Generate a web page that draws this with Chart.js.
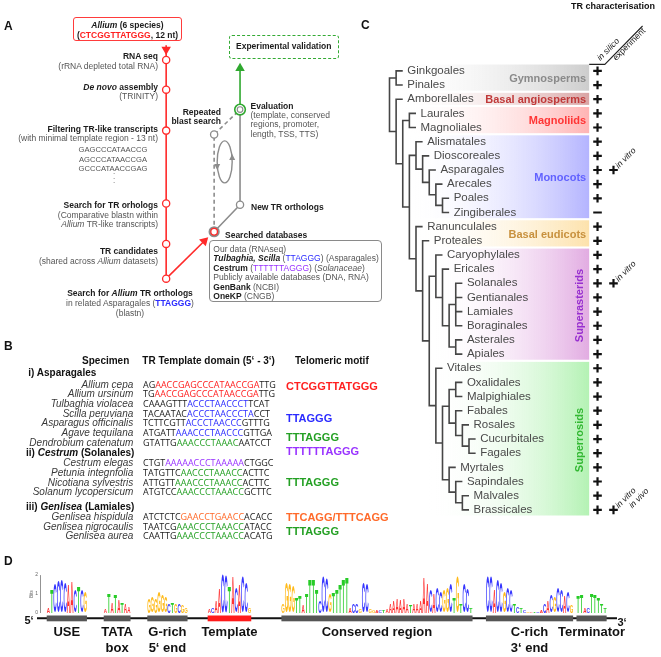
<!DOCTYPE html>
<html>
<head>
<meta charset="utf-8">
<title>Telomerase RNA search</title>
<script src="https://cdn.jsdelivr.net/npm/chart.js@4.4.1/dist/chart.umd.min.js"></script>
<style>
  body { margin: 0; background: #fff; }
  #fig { position: relative; width: 661px; height: 657px; overflow: hidden; font-family: "Liberation Sans", Arial, sans-serif; color: #555; }
  #fig canvas { position: absolute; }
  .t { position: absolute; white-space: nowrap; font-size: 8.5px; line-height: 10px; }
  .b { font-weight: bold; color: #1c1c1c; }
  .r { text-align: right; }
  .c { text-align: center; }
  .panel { position: absolute; font-weight: bold; font-size: 12px; line-height: 12px; color: #111; }
  .red { color: #ff2020; } .blue { color: #2b2bff; } .green { color: #24a024; } .purple { color: #9933ff; } .orange { color: #ff6a2a; }
  .sp { position: absolute; left: 0; width: 133.3px; text-align: right; font-style: italic; font-size: 10px; line-height: 10px; color: #3a3a3a; white-space: nowrap; }
  .seq { position: absolute; left: 143px; font-family: "Open Sans", sans-serif; font-size: 9px; line-height: 10px; color: #222; white-space: nowrap; }
  .grp { position: absolute; font-weight: bold; font-size: 10px; color: #111; white-space: nowrap; }
  .motif { position: absolute; left: 286px; font-weight: bold; font-size: 11px; line-height: 12px; white-space: nowrap; }
  .bh { position: absolute; font-weight: bold; font-size: 10px; line-height: 12px; color: #111; white-space: nowrap; }
</style>
</head>
<body>
<div id="fig">
  <canvas id="chartA" width="340" height="320" style="left:0;top:0"></canvas>
  <canvas id="chartC" width="331" height="530" style="left:330px;top:0"></canvas>
  <canvas id="chartD" width="661" height="92" style="left:0;top:565px"></canvas>

  <!-- panel A text -->
  <div class="panel" style="left:4px;top:19.5px">A</div>
  <div class="t b c" style="left:73px;top:17px;width:109px;height:23.5px;box-sizing:border-box;border:1.2px solid #ff3b3b;border-radius:3px;padding-top:1.5px"><i>Allium</i> (6 species)<br>(<span class="red">CTCGGTTATGGG</span>, 12 nt)</div>
  <div class="t b r" style="left:0;width:158px;top:50.5px">RNA seq</div>
  <div class="t r" style="left:0;width:158px;top:60.7px">(rRNA depleted total RNA)</div>
  <div class="t b r" style="left:0;width:158px;top:81.5px"><i>De novo</i> assembly</div>
  <div class="t r" style="left:0;width:158px;top:90.7px">(TRINITY)</div>
  <div class="t b r" style="left:0;width:158px;top:123.7px">Filtering TR-like transcripts</div>
  <div class="t r" style="left:0;width:158px;top:133.3px">(with minimal template region - 13 nt)</div>
  <div class="t c" style="left:73px;width:80px;top:145.3px;font-size:7.6px">GAGCCCATAACCG</div>
  <div class="t c" style="left:73px;width:80px;top:154.7px;font-size:7.6px">AGCCCATAACCGA</div>
  <div class="t c" style="left:73px;width:80px;top:164px;font-size:7.6px">GCCCATAACCGAG</div>
  <div class="t c" style="left:73px;width:82px;top:170px;line-height:4.5px;font-size:8px">.<br>.<br>.</div>
  <div class="t b r" style="left:0;width:158px;top:199.7px">Search for TR orhologs</div>
  <div class="t r" style="left:0;width:158px;top:209.7px">(Comparative blastn within</div>
  <div class="t r" style="left:0;width:158px;top:219.3px"><i>Allium</i> TR-like transcripts)</div>
  <div class="t b r" style="left:0;width:158px;top:245.7px">TR candidates</div>
  <div class="t r" style="left:0;width:158px;top:255.7px">(shared across <i>Allium</i> datasets)</div>
  <div class="t b c" style="left:50px;width:160px;top:288.3px">Search for <i>Allium</i> TR orthologs</div>
  <div class="t c" style="left:50px;width:160px;top:298.3px">in related Asparagales (<b class="blue">TTAGGG</b>)</div>
  <div class="t c" style="left:50px;width:160px;top:307.7px">(blastn)</div>

  <div class="t b c" style="left:229px;top:35px;width:109.5px;height:23.5px;box-sizing:border-box;border:1.2px dashed #33aa33;border-radius:3px;line-height:21px">Experimental validation</div>
  <div class="t b" style="left:250.5px;top:101px">Evaluation</div>
  <div class="t" style="left:250.5px;top:110.5px;line-height:9.6px">(template, conserved<br>regions, promoter,<br>length, TSS, TTS)</div>
  <div class="t b r" style="left:120px;width:101px;top:108px;line-height:9.4px">Repeated<br>blast search</div>
  <div class="t b" style="left:251px;top:201.7px">New TR orthologs</div>
  <div class="t b" style="left:225px;top:230px">Searched databases</div>
  <div class="t" style="left:209px;top:240px;width:173px;height:62px;box-sizing:border-box;border:1.2px solid #8a8a8a;border-radius:4px"></div>
  <div class="t" style="left:213.3px;top:244.5px;line-height:9.5px">Our data (RNAseq)<br><b class="b"><i>Tulbaghia, Scilla</i></b> (<span class="blue">TTAGGG</span>) (Asparagales)<br><b class="b">Cestrum</b> (<span class="purple">TTTTTTAGGG</span>) (<i>Solanaceae</i>)<br>Publicly available databases (DNA, RNA)<br><b class="b">GenBank</b> (NCBI)<br><b class="b">OneKP</b> (CNGB)</div>

  <!-- panel B text -->
  <div class="panel" style="left:4px;top:340px">B</div>
  <div class="bh r" style="left:0;width:129.3px;top:354.7px">Specimen</div>
  <div class="bh" style="left:142.3px;top:354.7px">TR Template domain (5‘ - 3‘)</div>
  <div class="bh" style="left:295px;top:354.7px">Telomeric motif</div>
  <div id="tableB"></div>

  <!-- panel C text -->
  <div class="panel" style="left:361px;top:19px">C</div>
  <div class="t b" style="left:571px;top:1px;font-size:9px;color:#111">TR characterisation</div>

  <!-- panel D text -->
  <div class="panel" style="left:4px;top:555px">D</div>
  <div class="t b" style="left:24.5px;top:614px;font-size:11px;line-height:12px;color:#111">5‘</div>
  <div class="t b" style="left:617.5px;top:615.7px;font-size:11px;line-height:12px;color:#111">3‘</div>
</div>

<script>
  /* ---------- PANEL A: search pipeline ---------- */
  const pipelineX = 166;
  const pipelineY = [55.5, 86.5, 129.3, 205.5, 247.7, 284];
  const searchedNode = {x: 216, y: 235};
  const repeatNode = {x: 216, y: 133.3};
  const newNode = {x: 243, y: 206.7};
  const evalNode = {x: 243, y: 107.3};
  const loopCenter = {x: 227, y: 162};

  /* ---------- PANEL B: template table ---------- */
  const groupTitles = ['i) Asparagales', 'ii) <i>Cestrum</i> (Solanales)', 'iii) <i>Genlisea</i> (Lamiales)'];
  const groupSizes = [7, 4, 3];
  const specimens = ['Allium cepa', 'Allium ursinum', 'Tulbaghia violacea', 'Scilla peruviana', 'Asparagus officinalis',
    'Agave tequilana', 'Dendrobium catenatum', 'Cestrum elegas', 'Petunia integnfolia', 'Nicotiana sylvestris',
    'Solanum lycopersicum', 'Genlisea hispidula', 'Genlisea nigrocaulis', 'Genlisea aurea'];
  const templates = ['AG[AACCGAGCCCATAACCGA]TTG', 'TG[AACCGAGCCCATAACCGA]TTG', 'CAAAGTTT[ACCCTAACCCT]TCAT',
    'TACAATAC[ACCCTAACCCTA]CCT', 'TCTTCGTT[ACCCTAACCC]GTTTG', 'ATGATT[AAACCCTAACCC]GTTGA', 'GTATTG[AAACCCTAAAC]AATCCT',
    'CTGT[AAAAACCCTAAAAA]CTGGC', 'TATGTTC[AACCCTAAACC]ACTTC', 'ATTGTT[AAACCCTAAACC]ACTTC', 'ATGTCC[AAACCCTAAACC]GCTTC',
    'ATCTCTC[GAACCTGAACC]ACACC', 'TAATCG[AAACCCTAAACC]ATACC', 'CAATTG[AAACCCTAAACC]ACATG'];
  const templateColor = ['red', 'red', 'blue', 'blue', 'blue', 'blue', 'green', 'purple', 'green', 'green', 'green', 'orange', 'green', 'green'];
  const motifs = ['CTCGGTTATGGG', 'TTAGGG', 'TTTAGGG', 'TTTTTTAGGG', 'TTTAGGG', 'TTCAGG/TTTCAGG', 'TTTAGGG'];
  const motifColor = ['red', 'blue', 'green', 'purple', 'green', 'orange', 'green'];
  const motifRow = [0.2, 3.5, 5.45, 6.85, 9, 11, 12.5];

  /* ---------- PANEL C: phylogeny ---------- */
  const superasterids = ['Caryophylales', ['Ericales', [['Solanales', 'Gentianales', 'Lamiales', 'Boraginales'], ['Asterales', 'Apiales']]]];
  const superrosids = ['Vitales', [
    [['Oxalidales', 'Malpighiales'], ['Fabales', ['Rosales', ['Cucurbitales', 'Fagales']]]],
    ['Myrtales', ['Sapindales', ['Malvales', 'Brassicales']]]
  ]];
  const monocots = ['Alismatales', ['Dioscoreales', ['Asparagales', ['Arecales', ['Poales', 'Zingiberales']]]]];
  const eudicots = ['Ranunculales', ['Proteales', [superasterids, superrosids]]];
  const phylogeny = [
    ['Ginkgoales', 'Pinales'],
    ['Amborellales', [['Laurales', 'Magnoliales'], [monocots, eudicots]]]
  ];
  const cladeNames = ['Gymnosperms', 'Basal angiosperms', 'Magnoliids', 'Monocots', 'Basal eudicots', 'Superasterids', 'Superrosids'];
  const cladeFirst = ['Ginkgoales', 'Amborellales', 'Laurales', 'Alismatales', 'Ranunculales', 'Caryophylales', 'Vitales'];
  const cladeLast = ['Pinales', 'Amborellales', 'Magnoliales', 'Zingiberales', 'Proteales', 'Apiales', 'Brassicales'];
  const inSilicoMinus = ['Zingiberales'];   // every other order is "+"
  const experimentOrders = ['Asparagales', 'Solanales', 'Brassicales'];
  const experimentNotes = [['in vitro'], ['in vitro'], ['in vitro', 'in vivo']];

  /* ---------- PANEL D: sequence logo ---------- */
  const logoSlots = 170;
  const regionNames = [['USE'], ['TATA', 'box'], ['G-rich', '5‘ end'], ['Template'], ['Conserved region'], ['C-rich', '3‘ end'], ['Terminator']];
  const regionStart = [2, 19, 32, 50, 72, 133, 160];
  const regionEnd = [13, 26, 43, 62, 128, 158, 168];
  const useLetters = 'ATCCCCAACTCG';
  const useBits = [.3, 1.25, 1.55, 1.7, 1.75, 1.6, 1.5, 1.65, 1.2, 1.35, 1.2, 1.1];
  const tataLetters = 'ATATATAA';
  const tataBits = [.2, 1.0, .55, .95, .7, .55, .5, .35];
  const grichLetters = 'GGGGGGCTGCGG';
  const grichBits = [.75, .8, .75, 1.1, .9, .85, .5, .55, .45, .5, .4, .3];
  const templateLetters = 'ACAACCTACACCG';
  const templateBits = [.2, .25, .6, 1.3, 2.0, 1.95, 1.4, 1.9, 1.3, 1.5, 1.85, 1.6, .3];
  const conservedLetters = 'GGGGTTATTTTCCCGTTTTTACCGCCGGACTAAAAAAATAAAAACACCGGCTGTCCT';
  const conservedBits = [.5, 1.6, 1.5, 1.4, .8, .9, .4, 1.0, 1.8, 1.75, 1.2, .6, 1.85, 1.8, 1.0, 1.1, 1.2, 1.5, 1.8, 1.85,
    .3, .5, .45, .2, 1.6, 1.5, .2, .12, .12, .12, .12, .2, .45, .6, .75, .65, .75, .5, .4, .45,
    .5, .6, 1.85, 1.6, 1.2, 1.0, 1.3, 1.1, 1.2, 1.3, 1.5, .8, 1.85, .5, 1.5, 1.25, .3];
  const crichLetters = 'CCACCGCCTCTCGATCACACGCCACG';
  const crichBits = [1.85, 1.9, 1.2, 1.75, 1.6, 1.1, 1.3, 1.2, .45, .35, .25, .15, .08, .08, .08, .08, .1, .5, .6, .9, .8, 1.3, 1.2, .9, 1.1, .4];
  const termLetters = 'TTACTTTTT';
  const termBits = [.9, .95, .3, .25, 1.0, .95, .8, .5, .3];
  const regionLetters = [useLetters, tataLetters, grichLetters, templateLetters, conservedLetters, crichLetters, termLetters];
  const regionBits = [useBits, tataBits, grichBits, templateBits, conservedBits, crichBits, termBits];

  /* ---------- styles ---------- */
  const RED = '#ff2a2a', GRAY = '#8c8c8c', GREEN = '#2fa82f';
  const cladeStyle = {
    fill: ['#cdcdcd', '#d9a4a4', '#ffb4b4', '#b4b4ff', '#fde2ac', '#e2ace2', '#b4f2b4'],
    text: ['#8a8a8a', '#c03a3a', '#ff3535', '#6262ff', '#c8913e', '#9830d0', '#33b833'],
    start: [1, 2, 3, 4, 4, 7, 7],
    vertical: [false, false, false, false, false, true, true]
  };
  const letterColor = {A: '#ff3030', C: '#3535ff', G: '#ffba1a', T: '#27cc27'};

  Chart.defaults.font.family = '"Liberation Sans", Arial, sans-serif';

  /* FUNCTION TO BUILD PANEL B */

  function buildTable() {
    const box = document.getElementById('tableB');
    const rowH = 9.65;
    const headH = [14, 11, 11];
    const headGap = [0, 0, 4];
    let y = 365.7;
    let row = 0;
    const rowY = [];
    let html = '';
    groupTitles.forEach((title, g) => {
      y += headGap[g];
      html += `<div class="grp" style="left:${g === 0 ? 28.3 : 26}px;top:${y}px;line-height:${headH[g]}px">${title}</div>`;
      y += headH[g];
      for (let k = 0; k < groupSizes[g]; k++, row++) {
        const seq = templates[row].replace('[', `<span class="${templateColor[row]}">`).replace(']', '</span>');
        html += `<div class="sp" style="top:${y}px">${specimens[row]}</div>`;
        html += `<div class="seq" style="top:${y}px">${seq}</div>`;
        rowY.push(y + rowH / 2);
        y += rowH;
      }
    });
    motifs.forEach((m, k) => {
      const base = Math.floor(motifRow[k]);
      const cy = rowY[base] + (motifRow[k] - base) * rowH;
      html += `<div class="motif ${motifColor[k]}" style="top:${cy - 6}px">${m}</div>`;
    });
    box.innerHTML = html;
  }

  /* FUNCTION TO DRAW PANEL A */

  const loopArrow = {
    id: 'loopArrow',
    afterDatasetsDraw(chart) {
      const {ctx, scales: {x, y}} = chart;
      const cx = x.getPixelForValue(loopCenter.x);
      const cy = y.getPixelForValue(loopCenter.y);
      ctx.save();
      ctx.strokeStyle = GRAY;
      ctx.fillStyle = GRAY;
      ctx.lineWidth = 1.4;
      ctx.beginPath();
      ctx.ellipse(cx, cy, 7.5, 21, 0, 0, Math.PI * 2);
      ctx.stroke();
      const head = (hx, hy, dir) => {
        ctx.beginPath();
        ctx.moveTo(hx, hy + dir * 4);
        ctx.lineTo(hx - 3, hy - dir * 2);
        ctx.lineTo(hx + 3, hy - dir * 2);
        ctx.closePath();
        ctx.fill();
      };
      head(cx - 7.5, cy + 4, 1);
      head(cx + 7.5, cy - 4, -1);
      ctx.restore();
    }
  };

  function initFlow(canvas) {
    const line = (pts, color, extra) => Object.assign({data: pts, showLine: true, borderColor: color, borderWidth: 1.6, pointRadius: 0, order: 5}, extra || {});
    const arrow = (pt, rot, color) => ({data: [pt], pointStyle: 'triangle', pointRotation: rot, pointRadius: 5.5,
      pointBackgroundColor: color, pointBorderColor: color, pointBorderWidth: 0, order: 4});
    return new Chart(canvas, {
      type: 'scatter',
      data: {
        datasets: [
          {data: pipelineY.map(v => ({x: pipelineX, y: v})), pointRadius: 3.6, pointBackgroundColor: '#fff', pointBorderColor: RED, pointBorderWidth: 1.3, order: 1},
          {data: [searchedNode], pointRadius: 3.3, pointBackgroundColor: '#fff', pointBorderColor: RED, pointBorderWidth: 1.3, order: 1},
          {data: [repeatNode, newNode], pointRadius: 3.6, pointBackgroundColor: '#fff', pointBorderColor: GRAY, pointBorderWidth: 1.3, order: 1},
          {data: [evalNode], pointRadius: 2.8, pointBackgroundColor: '#fff', pointBorderColor: GRAY, pointBorderWidth: 1.2, order: 1},
          {data: [searchedNode], pointRadius: 5.6, pointBackgroundColor: GRAY, pointBorderColor: GRAY, pointBorderWidth: 0, order: 2},
          {data: [evalNode], pointRadius: 5.3, pointBackgroundColor: '#fff', pointBorderColor: GREEN, pointBorderWidth: 1.6, order: 2},
          arrow({x: pipelineX, y: 44.5}, 180, RED),
          arrow({x: 205.8, y: 244.7}, 45, RED),
          arrow({x: evalNode.x, y: 64}, 0, GREEN),
          line([{x: pipelineX, y: 40}, {x: pipelineX, y: pipelineY[5]}], RED),
          line([{x: pipelineX, y: pipelineY[5]}, {x: 205.8, y: 244.7}], RED),
          line([evalNode, newNode, searchedNode], GRAY),
          line([searchedNode, repeatNode, evalNode], GRAY, {borderDash: [4, 3]}),
          line([evalNode, {x: evalNode.x, y: 64}], GREEN)
        ]
      },
      options: {
        responsive: false, animation: false, events: [],
        scales: {
          x: {type: 'linear', min: 0, max: 340, display: false},
          y: {type: 'linear', min: 0, max: 320, reverse: true, display: false}
        },
        plugins: {legend: {display: false}, tooltip: {enabled: false}}
      },
      plugins: [loopArrow]
    });
  }

  /* FUNCTION TO LAY OUT THE TREE */

  const tipRows = [];
  const treeSegs = [];
  function layout(node, depth) {
    if (typeof node === 'string') {
      tipRows.push({name: node, depth: depth, row: tipRows.length});
      return {x: depth, y: tipRows.length - 1};
    }
    const kids = node.map(ch => layout(ch, depth + 1));
    const first = kids[0];
    const last = kids[kids.length - 1];
    treeSegs.push([{x: first.x, y: first.y}, {x: depth, y: first.y}, {x: depth, y: last.y}, {x: last.x, y: last.y}]);
    kids.slice(1, -1).forEach(k => treeSegs.push([{x: depth, y: k.y}, {x: k.x, y: k.y}]));
    return {x: depth, y: (first.y + last.y) / 2};
  }
  const rowOf = name => tipRows.find(t => t.name === name).row;

  const bandRight = 30.14, plusCol1 = 31.4, plusCol2 = 33.81;

  const treeText = {
    id: 'treeText',
    beforeDatasetsDraw(chart) {
      const {ctx, scales: {x, y}} = chart;
      ctx.save();
      cladeNames.forEach((name, k) => {
        const top = y.getPixelForValue(rowOf(cladeFirst[k]) - 0.45);
        const bottom = y.getPixelForValue(rowOf(cladeLast[k]) + 0.4);
        const left = x.getPixelForValue(cladeStyle.start[k]) - 8;
        const right = x.getPixelForValue(bandRight);
        const g = ctx.createLinearGradient(left, 0, right, 0);
        g.addColorStop(0, 'rgba(255,255,255,0)');
        g.addColorStop(1, cladeStyle.fill[k]);
        ctx.fillStyle = g;
        ctx.fillRect(left, top, right - left, bottom - top);
      });
      ctx.restore();
    },
    afterDatasetsDraw(chart) {
      const {ctx, scales: {x, y}} = chart;
      ctx.save();
      ctx.textBaseline = 'middle';
      ctx.textAlign = 'left';
      ctx.font = '11.5px "Liberation Sans"';
      ctx.fillStyle = '#4a4a4a';
      tipRows.forEach(t => ctx.fillText(t.name, x.getPixelForValue(t.depth) + 4.5, y.getPixelForValue(t.row)));

      ctx.font = 'bold 11px "Liberation Sans"';
      const right = x.getPixelForValue(bandRight);
      cladeNames.forEach((name, k) => {
        const mid = (rowOf(cladeFirst[k]) + rowOf(cladeLast[k])) / 2;
        const py = y.getPixelForValue(mid) + 1;
        ctx.fillStyle = cladeStyle.text[k];
        if (cladeStyle.vertical[k]) {
          ctx.save();
          ctx.translate(right - 9, py);
          ctx.rotate(-Math.PI / 2);
          ctx.textAlign = 'center';
          ctx.fillText(name, 0, 0);
          ctx.restore();
        } else {
          ctx.textAlign = 'right';
          ctx.fillText(name, right - 3, py);
        }
      });

      const rot = (txt, px, py, italic) => {
        ctx.save();
        ctx.translate(px, py);
        ctx.rotate(-Math.PI / 4);
        ctx.font = (italic ? 'italic ' : '') + '8.5px "Liberation Sans"';
        ctx.textAlign = 'left';
        ctx.fillStyle = '#222';
        ctx.fillText(txt, 0, 0);
        ctx.restore();
      };
      const headY = y.getPixelForValue(-0.46) - 5;
      rot('in silico', x.getPixelForValue(plusCol1) + 1, headY, true);
      rot('experiment', x.getPixelForValue(plusCol2) + 1, headY, false);
      experimentOrders.forEach((o, k) => {
        const px = x.getPixelForValue(plusCol2);
        const py = y.getPixelForValue(rowOf(o)) - 3;
        experimentNotes[k].forEach((n, j) => rot(n, px + 3.5 + j * 13.5, py, true));
      });
      ctx.restore();
    }
  };

  function initTree(canvas) {
    layout(phylogeny, 0);
    const branches = treeSegs.map(seg => ({data: seg, showLine: true, borderColor: '#464646', borderWidth: 1.6, pointRadius: 0, order: 3}));
    const silico = {
      data: tipRows.map(t => ({x: plusCol1, y: t.row})),
      pointStyle: tipRows.map(t => inSilicoMinus.includes(t.name) ? 'line' : 'cross'),
      pointRadius: 4.3, pointBorderWidth: 2.2, pointBorderColor: '#111', pointBackgroundColor: '#111', order: 1
    };
    const experiment = {
      data: experimentOrders.map(o => ({x: plusCol2, y: rowOf(o)})),
      pointStyle: 'cross', pointRadius: 4.3, pointBorderWidth: 2.2, pointBorderColor: '#111', order: 1
    };
    const header = {
      data: [{x: bandRight, y: -0.46}, {x: 32.5, y: -0.46}, {x: 38.2, y: -3.17}],
      showLine: true, borderColor: '#222', borderWidth: 1.1, pointRadius: 0, order: 1
    };
    return new Chart(canvas, {
      type: 'scatter',
      data: {datasets: [silico, experiment, header].concat(branches)},
      options: {
        responsive: false, animation: false, events: [],
        scales: {
          x: {type: 'linear', min: -8, max: 40, display: false},
          y: {type: 'linear', min: -4.547, max: 31.965, reverse: true, display: false}
        },
        plugins: {legend: {display: false}, tooltip: {enabled: false}}
      },
      plugins: [treeText]
    });
  }

  /* FUNCTION TO DRAW THE LOGO */

  function drawLetter(ctx, ch, cx, top, w, h, color) {
    ctx.save();
    ctx.font = 'bold 100px "Liberation Sans"';
    const m = ctx.measureText(ch);
    const gw = m.actualBoundingBoxLeft + m.actualBoundingBoxRight;
    const gh = m.actualBoundingBoxAscent + m.actualBoundingBoxDescent;
    ctx.translate(cx - w / 2, top);
    ctx.scale(w / gw, h / gh);
    ctx.fillStyle = color;
    ctx.fillText(ch, m.actualBoundingBoxLeft, m.actualBoundingBoxAscent);
    ctx.restore();
  }

  const logoLetters = new Array(logoSlots).fill('');
  const logoBits = new Array(logoSlots).fill(0);
  regionLetters.forEach((seq, k) => {
    for (let i = 0; i < seq.length; i++) {
      logoLetters[regionStart[k] + i] = seq[i];
      logoBits[regionStart[k] + i] = regionBits[k][i];
    }
  });

  const logoPlugin = {
    id: 'logo',
    afterDatasetsDraw(chart) {
      const ctx = chart.ctx;
      chart.getDatasetMeta(0).data.forEach((bar, i) => {
        if (!logoLetters[i] || !logoBits[i]) return;
        const p = bar.getProps(['x', 'y', 'base', 'width'], true);
        drawLetter(ctx, logoLetters[i], p.x, p.y, p.width, p.base - p.y, letterColor[logoLetters[i]]);
      });
    },
    afterDraw(chart) {
      const {ctx, scales: {x}} = chart;
      const w = x.getPixelForValue(1) - x.getPixelForValue(0);
      ctx.save();
      ctx.strokeStyle = '#111';
      ctx.lineWidth = 2;
      ctx.beginPath();
      ctx.moveTo(37, 53.3);
      ctx.lineTo(617, 53.3);
      ctx.stroke();
      ctx.textAlign = 'center';
      ctx.textBaseline = 'middle';
      regionNames.forEach((lines, k) => {
        const l = x.getPixelForValue(regionStart[k]) - w / 2;
        const r = x.getPixelForValue(regionEnd[k]) + w / 2;
        ctx.fillStyle = k === 3 ? '#ff1a1a' : '#555';
        ctx.fillRect(l, 50.5, r - l, 5.8);
        ctx.fillStyle = '#111';
        ctx.font = 'bold 13px "Liberation Sans"';
        lines.forEach((s, j) => ctx.fillText(s, (l + r) / 2, 67.5 + j * 16));
      });
      ctx.save();
      ctx.translate(32, 29);
      ctx.rotate(-Math.PI / 2);
      ctx.font = '4.5px "Liberation Sans"';
      ctx.fillStyle = '#666';
      ctx.fillText('Bits', 0, 0);
      ctx.restore();
      ctx.restore();
    }
  };

  function initLogo(canvas) {
    return new Chart(canvas, {
      type: 'bar',
      data: {
        labels: logoBits.map((v, i) => String(i)),
        datasets: [{data: logoBits, backgroundColor: 'rgba(0,0,0,0)', barPercentage: 1, categoryPercentage: 0.92}]
      },
      options: {
        responsive: false, animation: false, events: [],
        layout: {padding: {top: 10, bottom: 44.3, right: 51, left: 0}},
        scales: {
          x: {display: false, offset: true},
          y: {
            min: 0, max: 2, position: 'left',
            afterFit: s => { s.width = 40; },
            grid: {display: false, drawTicks: false},
            border: {display: true, color: '#777', width: 0.8},
            ticks: {stepSize: 1, font: {size: 5}, color: '#666', padding: 2}
          }
        },
        plugins: {legend: {display: false}, tooltip: {enabled: false}}
      },
      plugins: [logoPlugin]
    });
  }

  function mainEvent() {
    buildTable();
    initFlow(document.getElementById('chartA'));
    initTree(document.getElementById('chartC'));
    initLogo(document.getElementById('chartD'));
  }

  document.addEventListener('DOMContentLoaded', () => mainEvent());
</script>
</body>
</html>
